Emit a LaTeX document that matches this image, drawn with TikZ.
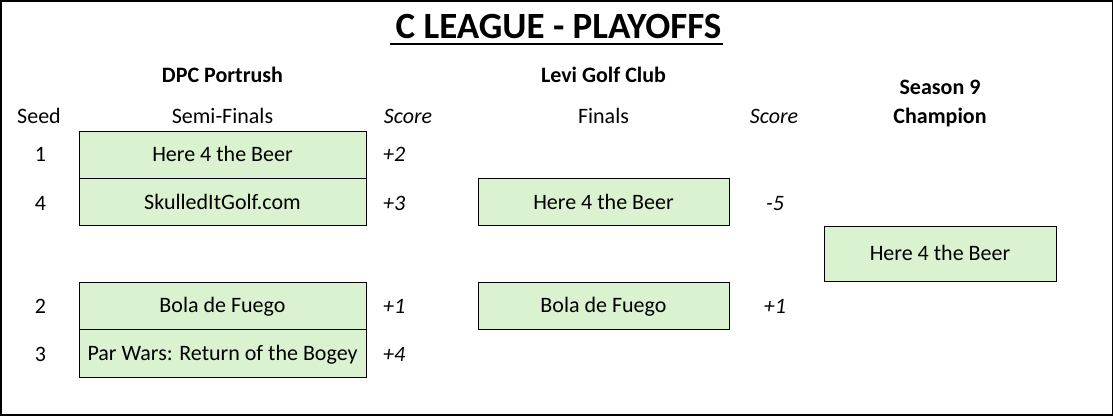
\documentclass[tikz,border=0pt]{standalone}
\usepackage{fontspec}
\setmainfont{Carlito}
\usetikzlibrary{calc}
\definecolor{boxgreen}{HTML}{DAF2D0}
\tikzset{
  team/.style={draw=black, line width=0.9pt, fill=boxgreen, inner sep=0pt,
    text height=14pt, text depth=0pt, font=\fontsize{22}{24}\selectfont},
  hdr/.style={anchor=base, inner sep=0pt, font=\fontsize{22}{24}\selectfont},
  bhdr/.style={hdr, font=\fontsize{22}{24}\selectfont\bfseries},
  ihdr/.style={hdr, font=\fontsize{22}{24}\selectfont\itshape},
  seedtxt/.style={anchor=base, inner sep=0pt, font=\fontsize{22}{24}\selectfont},
  scoretxt/.style={anchor=base west, inner sep=0pt, font=\fontsize{22}{24}\selectfont\itshape},
}
\begin{document}
\begin{tikzpicture}[x=1pt,y=-1pt]
\useasboundingbox (0,0) rectangle (1114,417);
\draw[line width=1.5pt] (1,1) rectangle (1112.3,415);
% title
\node[anchor=base, inner sep=0pt, font=\fontsize{37}{40}\selectfont\bfseries] (title) at (558.5,38.5) {C LEAGUE - PLAYOFFS};
\coordinate (ulL) at (390,44);
\coordinate (ulR) at (722.5,44);
\draw[line width=2pt] (ulL) -- (ulR);
% headers
\node[bhdr] (dpc) at (222.5,82.7) {DPC Portrush};
\node[bhdr] (levi) at (603.5,82.7) {Levi Golf Club};
\node[bhdr] (season) at (940,95) {Season 9};
\node[hdr] (seedh) at (39,124) {Seed};
\node[hdr] (semih) at (222.5,124) {Semi-Finals};
\node[ihdr] (score1h) at (408,124) {Score};
\node[hdr] (finh) at (603.5,124) {Finals};
\node[ihdr] (score2h) at (774,124) {Score};
\node[bhdr] (champh) at (940,124) {Champion};
% semi-final boxes
\node[team, minimum width=287pt, minimum height=47pt] (s1) at (222.5,154.5) {Here 4 the Beer};
\node[team, minimum width=287pt, minimum height=47.5pt] (s4) at (222.5,202) {SkulledItGolf.com};
\node[team, minimum width=287pt, minimum height=47pt] (s2) at (222.5,305.5) {Bola de Fuego};
\node[team, minimum width=287pt, minimum height=48pt] (s3) at (222.5,353) {Par Wars: Return of the Bogey};
% seeds
\node[seedtxt] (n1) at (40.5,162) {1};
\node[seedtxt] (n4) at (40.5,210) {4};
\node[seedtxt] (n2) at (40.5,313) {2};
\node[seedtxt] (n3) at (40.5,361) {3};
% semi scores
\node[scoretxt] (sc1) at (383,162) {+2};
\node[scoretxt] (sc4) at (383,210) {+3};
\node[scoretxt] (sc2) at (383,313) {+1};
\node[scoretxt] (sc3) at (383,361) {+4};
% finals
\node[team, minimum width=251pt, minimum height=47.5pt] (f1) at (603.5,202) {Here 4 the Beer};
\node[team, minimum width=251pt, minimum height=47pt] (f2) at (603.5,305.5) {Bola de Fuego};
\node[anchor=base, inner sep=0pt, font=\fontsize{22}{24}\selectfont\itshape] (fsc1) at (775,210) {-5};
\node[anchor=base, inner sep=0pt, font=\fontsize{22}{24}\selectfont\itshape] (fsc2) at (775,313) {+1};
% champion
\node[team, minimum width=232pt, minimum height=55pt] (champ) at (940,253.5) {Here 4 the Beer};
\end{tikzpicture}
\end{document}
